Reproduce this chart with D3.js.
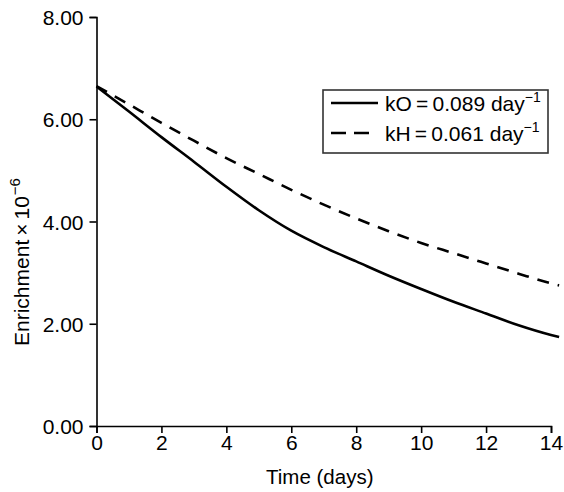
<!DOCTYPE html>
<html>
<head>
<meta charset="utf-8">
<script src="https://cdn.jsdelivr.net/npm/d3@7"></script>
<style>
  html, body { margin: 0; padding: 0; background: #fff; }
  svg text { font-family: "Liberation Sans", Arial, Helvetica, sans-serif; fill: #000; }
</style>
</head>
<body>
<svg id="chart" width="564" height="492"></svg>
<script>
// ---- data ----
const days = [0, 1, 2, 3, 4, 5, 6, 7, 8, 9, 10, 11, 12, 13, 14, 14.25];
const kOValues = [6.64, 6.15, 5.65, 5.17, 4.68, 4.22, 3.82, 3.50, 3.22, 2.94, 2.68, 2.43, 2.20, 1.97, 1.78, 1.74];
const kHValues = [6.65, 6.29, 5.93, 5.58, 5.24, 4.93, 4.62, 4.33, 4.06, 3.81, 3.58, 3.38, 3.18, 2.98, 2.79, 2.75];
const seriesLabels = ["kO\u2009=\u20090.089 day", "kH\u2009=\u20090.061 day"];
const xTicks = [0, 2, 4, 6, 8, 10, 12, 14];
const yTicks = [0, 2, 4, 6, 8];

// ---- layout ----
const svg = d3.select("#chart");
const x = d3.scaleLinear().domain([0, 14]).range([96.5, 551]);
const y = d3.scaleLinear().domain([0, 8]).range([426, 17]);
const FS = 21;

// axes
const xAxis = d3.axisBottom(x).tickValues(xTicks).tickSize(7).tickPadding(2).tickFormat(d3.format("d"));
const yAxis = d3.axisLeft(y).tickValues(yTicks).tickSize(7).tickPadding(6).tickFormat(d3.format(".2f"));

const gx = svg.append("g").attr("transform", `translate(0,${y(0)})`).call(xAxis);
const gy = svg.append("g").attr("transform", `translate(${x(0)},0)`).call(yAxis);
[gx, gy].forEach(g => {
  g.select(".domain").attr("stroke", "#000").attr("stroke-width", 1.6);
  g.selectAll(".tick line").attr("stroke", "#000").attr("stroke-width", 1.6);
  g.selectAll(".tick text").attr("font-size", FS).attr("font-family", "Liberation Sans, Arial, sans-serif").attr("fill", "#000");
});
gy.selectAll(".tick text").attr("dy", "0.36em");

// axis titles
svg.append("text")
  .attr("x", (x(0) + x(14)) / 2 - 4)
  .attr("y", 484)
  .attr("text-anchor", "middle")
  .attr("font-size", 20.5)
  .text("Time (days)");

const yt = svg.append("text")
  .attr("transform", `translate(29,346) rotate(-90)`)
  .attr("text-anchor", "start")
  .attr("font-size", 21);
yt.append("tspan").text("Enrichment");
yt.append("tspan").attr("dx", 4).text("\u00d7");
yt.append("tspan").attr("dx", 4).text("10");
yt.append("tspan").attr("dy", -9).attr("dx", 1).attr("font-size", 15).text("\u22126");

// lines
const line = d3.line().x((d, i) => x(days[i])).y(d => y(d)).curve(d3.curveMonotoneX);
svg.append("path").datum(kHValues)
  .attr("d", line).attr("fill", "none").attr("stroke", "#000")
  .attr("stroke-width", 2.6).attr("stroke-dasharray", "12,9");
svg.append("path").datum(kOValues)
  .attr("d", line).attr("fill", "none").attr("stroke", "#000")
  .attr("stroke-width", 2.6);

// legend
const lg = svg.append("g");
lg.append("rect")
  .attr("x", 323).attr("y", 90).attr("width", 225).attr("height", 63)
  .attr("fill", "#fff").attr("stroke", "#333").attr("stroke-width", 1.6);
const dashes = [null, "15,8"];
const sampleEnd = [378, 369];
seriesLabels.forEach((lab, i) => {
  const cy = 103 + i * 30;
  lg.append("line")
    .attr("x1", 331).attr("x2", sampleEnd[i]).attr("y1", cy).attr("y2", cy)
    .attr("stroke", "#000").attr("stroke-width", 2.6)
    .attr("stroke-dasharray", dashes[i]);
  const t = lg.append("text").attr("x", 385).attr("y", cy + 8).attr("font-size", FS);
  t.append("tspan").text(lab);
  t.append("tspan").attr("dy", -9).attr("font-size", 14).text("\u22121");
});
</script>
</body>
</html>
